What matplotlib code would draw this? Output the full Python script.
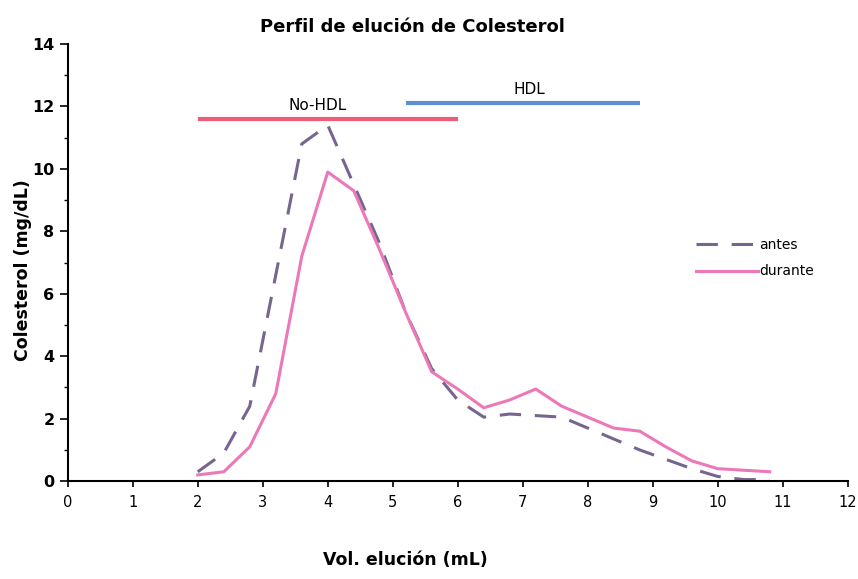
import matplotlib
matplotlib.use("Agg")
import matplotlib.pyplot as plt
from matplotlib.ticker import MultipleLocator

# volumen de elucion (mL) y colesterol (mg/dL)
vol = [2.0, 2.4, 2.8, 3.2, 3.6, 4.0, 4.4, 4.8, 5.2, 5.6, 6.0, 6.4,
       6.8, 7.2, 7.6, 8.0, 8.4, 8.8, 9.2, 9.6, 10.0, 10.4, 10.8]
antes = [0.3, 0.9, 2.4, 6.6, 10.8, 11.4, 9.5, 7.6, 5.4, 3.6, 2.6, 2.05,
         2.15, 2.1, 2.05, 1.7, 1.35, 1.0, 0.7, 0.4, 0.15, 0.05, 0.05]
durante = [0.2, 0.3, 1.1, 2.8, 7.2, 9.9, 9.3, 7.4, 5.4, 3.5, 2.95, 2.35,
           2.6, 2.95, 2.4, 2.05, 1.7, 1.6, 1.1, 0.65, 0.4, 0.35, 0.3]

# rangos de fracciones
nohdl_rango = [2.0, 6.0]
nohdl_nivel = 11.6
hdl_rango = [5.2, 8.8]
hdl_nivel = 12.1

fig = plt.figure(figsize=(8.58, 5.79), dpi=100)
ax = fig.add_axes([0.079, 0.169, 0.909, 0.755])

ax.plot(vol, antes, color="#76668F", lw=2.2, dashes=(7, 4.5), label="antes")
ax.plot(vol, durante, color="#EC78B8", lw=2.2, label="durante")

ax.plot(nohdl_rango, [nohdl_nivel] * 2, color="#EE5C78", lw=3, solid_capstyle="butt")
ax.plot(hdl_rango, [hdl_nivel] * 2, color="#5E8FD3", lw=3, solid_capstyle="butt")
ax.text(3.85, nohdl_nivel + 0.2, "No-HDL", ha="center", va="bottom", fontsize=11)
ax.text(7.1, hdl_nivel + 0.2, "HDL", ha="center", va="bottom", fontsize=11)

ax.set_xlim(0, 12)
ax.set_ylim(0, 14)
ax.xaxis.set_major_locator(MultipleLocator(1))
ax.yaxis.set_major_locator(MultipleLocator(2))
ax.yaxis.set_minor_locator(MultipleLocator(1))
ax.spines["top"].set_visible(False)
ax.spines["right"].set_visible(False)
ax.spines["left"].set_linewidth(1.5)
ax.spines["bottom"].set_linewidth(1.5)
ax.tick_params(axis="x", labelsize=10.5, length=4, width=1.2, pad=6)
ax.tick_params(axis="y", which="major", labelsize=11.5, length=6, width=1.2)
ax.tick_params(axis="y", which="minor", length=3, width=1)
for t in ax.get_yticklabels():
    t.set_fontweight("bold")

fig.text(0.481, 0.953, "Perfil de elución de Colesterol", fontsize=13,
         fontweight="bold", ha="center", va="center")
fig.text(0.472, 0.033, "Vol. elución (mL)", fontsize=12.5,
         fontweight="bold", ha="center", va="center")
ax.set_ylabel("Colesterol (mg/dL)", fontsize=12.5, fontweight="bold")
ax.yaxis.set_label_coords(-0.046, 0.483)

ax.legend(loc="center left", bbox_to_anchor=(0.806, 0.51), frameon=False,
          fontsize=10, handlelength=4.4, handletextpad=0.15, labelspacing=0.9,
          borderaxespad=0, borderpad=0)

fig.savefig("out.png", dpi=100)
